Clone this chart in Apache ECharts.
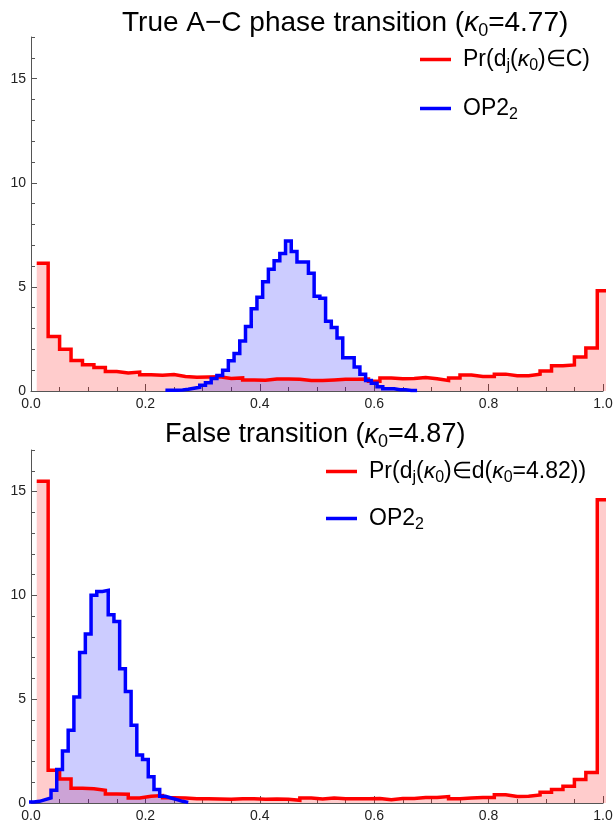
<!DOCTYPE html>
<html>
<head>
<meta charset="utf-8">
<script src="https://cdn.jsdelivr.net/npm/echarts@6/dist/echarts.min.js"></script>
<style>
  html, body { margin: 0; padding: 0; background: #fff; }
  #chart { width: 616px; height: 825px; }
</style>
</head>
<body>
<div id="chart"></div>
<script>
// top panel: true A-C phase transition (kappa0 = 4.77)
var redTopStart = 0.01, redTopWidth = 0.02;
var redTop = [6.13, 2.62, 2.01, 1.47, 1.26, 1.13, 0.94, 0.86, 0.91, 0.78,
              0.76, 0.79, 0.70, 0.66, 0.67, 0.68, 0.60, 0.63, 0.53, 0.52,
              0.58, 0.58, 0.56, 0.50, 0.51, 0.53, 0.56, 0.56, 0.57, 0.47,
              0.62, 0.59, 0.60, 0.65, 0.59, 0.51, 0.62, 0.77, 0.70, 0.70,
              0.81, 0.73, 0.73, 0.81, 0.96, 1.21, 1.25, 1.63, 2.06, 4.81];
var blueTopStart = 0.235, blueTopWidth = 0.01;
var blueTop = [0.04, 0.04, 0.05, 0.08, 0.13, 0.18, 0.28, 0.40, 0.60, 0.75,
               1.00, 1.45, 1.80, 2.40, 3.10, 3.95, 4.50, 5.25, 5.85, 6.25,
               6.60, 7.20, 6.70, 6.20, 6.20, 5.65, 4.55, 4.45, 3.35, 3.05,
               2.55, 1.60, 1.60, 1.15, 0.80, 0.50, 0.37, 0.21, 0.11, 0.11,
               0.06, 0.06, 0.03, 0.03];

// bottom panel: false transition (kappa0 = 4.87)
var redBotStart = 0.01, redBotWidth = 0.02;
var redBot = [15.5, 1.58, 1.16, 0.71, 0.69, 0.61, 0.43, 0.42, 0.24, 0.32,
              0.36, 0.25, 0.24, 0.20, 0.21, 0.19, 0.18, 0.20, 0.21, 0.18,
              0.19, 0.18, 0.13, 0.24, 0.19, 0.24, 0.21, 0.21, 0.21, 0.22,
              0.16, 0.22, 0.22, 0.26, 0.26, 0.31, 0.21, 0.24, 0.26, 0.26,
              0.40, 0.31, 0.32, 0.39, 0.52, 0.65, 0.81, 1.13, 1.47, 14.6];
var blueBotStart = -0.005, blueBotWidth = 0.01;
var blueBot = [0.05, 0.08, 0.16, 0.24, 0.61, 1.61, 2.50, 3.50, 5.10, 7.25,
               8.14, 10.0, 10.19, 10.24, 9.06, 8.74, 6.47, 5.37, 3.75, 2.31,
               2.10, 1.26, 0.65, 0.32, 0.24, 0.16, 0.08, 0.03];

var FONT = '"Liberation Sans", Arial, sans-serif';
var AXIS = '#555';

// histogram bins -> step outline points
function steps(start, width, vals) {
    var pts = vals.map(function (v, i) {
        return [+(start + i * width).toFixed(4), v];
    });
    pts.push([+(start + vals.length * width).toFixed(4), vals[vals.length - 1]]);
    return pts;
}

function hist(name, gi, color, fill, pts) {
    return {
        name: name,
        type: 'line',
        xAxisIndex: gi,
        yAxisIndex: gi * 2,
        step: 'end',
        data: pts,
        symbol: 'none',
        showSymbol: false,
        clip: true,
        itemStyle: { color: color },
        lineStyle: { color: color, width: 3.5, join: 'miter' },
        areaStyle: { color: fill, opacity: 1 }
    };
}

function xAx(gi) {
    return {
        type: 'value', gridIndex: gi, min: 0, max: 1, interval: 0.2,
        axisLine: { lineStyle: { color: AXIS, width: 1 } },
        axisTick: { inside: true, length: 7, lineStyle: { color: AXIS } },
        minorTick: { show: true, splitNumber: 4, length: 4, lineStyle: { color: AXIS } },
        splitLine: { show: false },
        axisLabel: {
            color: '#222', fontSize: 14, fontFamily: FONT, margin: 6,
            formatter: function (v) { return v.toFixed(1); }
        }
    };
}

function yAx(gi) {
    return [{
        type: 'value', gridIndex: gi, min: 0, max: 17, interval: 5, position: 'left',
        axisLine: { show: true, lineStyle: { color: AXIS, width: 1 } },
        axisTick: { inside: true, length: 6, lineStyle: { color: AXIS } },
        splitLine: { show: false },
        axisLabel: { color: '#222', fontSize: 14, fontFamily: FONT, margin: 5, showMaxLabel: false }
    }, {
        type: 'value', gridIndex: gi, min: 0, max: 17, interval: 1, position: 'left', offset: 0,
        axisLine: { show: false },
        axisTick: { inside: true, length: 4, lineStyle: { color: AXIS } },
        splitLine: { show: false },
        axisLabel: { show: false }
    }];
}

function titleRich(size) {
    var base = { fontSize: size, lineHeight: size + 5, fontFamily: FONT, fontWeight: 'normal', color: '#000' };
    return {
        a: base,
        k: Object.assign({}, base, { fontStyle: 'italic' }),
        s: { fontSize: 18, lineHeight: 18, fontFamily: FONT, fontWeight: 'normal', color: '#000', verticalAlign: 'bottom' }
    };
}
var legRich = {
    p: { fontSize: 23, lineHeight: 28, fontFamily: FONT, color: '#000', padding: [0, 0, 0, 7] },
    a: { fontSize: 23, lineHeight: 28, fontFamily: FONT, color: '#000' },
    k: { fontSize: 23, lineHeight: 28, fontFamily: FONT, color: '#000', fontStyle: 'italic' },
    s: { fontSize: 16, lineHeight: 16, fontFamily: FONT, color: '#000', verticalAlign: 'bottom' }
};
var legendText = {
    'prTop': '{p|Pr(d}{s|j}{a|(}{k|κ}{s|0}{a|)∈C)}',
    'opTop': '{p|OP2}{s|2}',
    'prBot': '{p|Pr(d}{s|j}{a|(}{k|κ}{s|0}{a|)∈d(}{k|κ}{s|0}{a|=4.82))}',
    'opBot': '{p|OP2}{s|2}'
};

function leg(name, left, top) {
    return {
        data: [name], left: left, top: top, padding: 0,
        orient: 'vertical', selectedMode: false,
        icon: 'rect', itemWidth: 31, itemHeight: 3.5,
        formatter: function (n) { return legendText[n]; },
        textStyle: { rich: legRich }
    };
}

var chart = echarts.init(document.getElementById('chart'), null, { renderer: 'canvas' });
chart.setOption({
    animation: false,
    backgroundColor: '#fff',
    title: [{
        text: '{a|True A−C phase transition (}{k|κ}{s|0}{a|=4.77)}',
        left: 122, top: 7, padding: 0,
        textStyle: { fontWeight: 'normal', rich: titleRich(28) }
    }, {
        text: '{a|False transition (}{k|κ}{s|0}{a|=4.87)}',
        left: 165, top: 419, padding: 0,
        textStyle: { fontWeight: 'normal', rich: titleRich(27) }
    }],
    legend: [
        leg('prTop', 420, 48),
        leg('opTop', 420, 97),
        leg('prBot', 326, 460),
        leg('opBot', 326, 507)
    ],
    grid: [
        { left: 31, right: 13, top: 37, height: 354 },
        { left: 31, right: 13, top: 450, height: 353 }
    ],
    xAxis: [xAx(0), xAx(1)],
    yAxis: yAx(0).concat(yAx(1)),
    series: [
        hist('prTop', 0, '#ff0000', 'rgba(255,0,0,0.2)', steps(redTopStart, redTopWidth, redTop)),
        hist('opTop', 0, '#0000ff', 'rgba(0,0,255,0.2)', steps(blueTopStart, blueTopWidth, blueTop)),
        hist('prBot', 1, '#ff0000', 'rgba(255,0,0,0.2)', steps(redBotStart, redBotWidth, redBot)),
        hist('opBot', 1, '#0000ff', 'rgba(0,0,255,0.2)', steps(blueBotStart, blueBotWidth, blueBot))
    ]
});
</script>
</body>
</html>
